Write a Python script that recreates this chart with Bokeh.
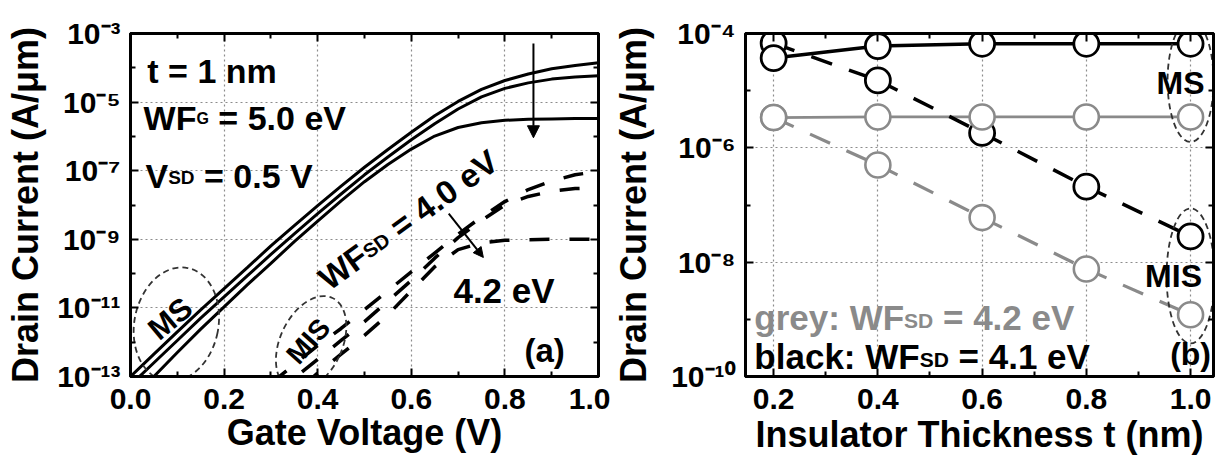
import math
from bokeh.plotting import figure
from bokeh.models import (FixedTicker, LogAxis, LinearAxis, CustomJSTickFormatter,
                          PrintfTickFormatter, Label, Arrow, NormalHead, Range1d)
from bokeh.layouts import row
from bokeh.embed import file_html
from bokeh.resources import INLINE

FONT = "Liberation Sans"

# ---------------- Panel (a) data: Id-Vg, t = 1 nm ----------------
gate_v = [0.00, 0.05, 0.10, 0.15, 0.20, 0.25, 0.30, 0.35, 0.40, 0.45, 0.50,
          0.55, 0.60, 0.65, 0.70, 0.75, 0.80, 0.85, 0.90, 0.95, 1.00]
log_id_ms_40 = [-13.00, -12.35, -11.70, -11.06, -10.44, -9.82, -9.19, -8.60, -8.02, -7.45, -6.90,
                -6.38, -5.88, -5.40, -4.98, -4.63, -4.37, -4.18, -4.03, -3.93, -3.85]
log_id_ms_41 = [-13.25, -12.60, -11.95, -11.30, -10.68, -10.06, -9.44, -8.84, -8.25, -7.68, -7.12,
                -6.60, -6.10, -5.63, -5.20, -4.85, -4.60, -4.44, -4.33, -4.27, -4.23]
log_id_ms_42 = [-13.65, -13.00, -12.30, -11.62, -10.97, -10.32, -9.70, -9.07, -8.47, -7.88, -7.32,
                -6.82, -6.37, -5.99, -5.74, -5.60, -5.53, -5.50, -5.49, -5.48, -5.48]

gate_v_mis = [0.30, 0.35, 0.40, 0.45, 0.50, 0.55, 0.60, 0.65, 0.70, 0.75, 0.80,
              0.85, 0.90, 0.95, 1.00]
log_id_mis_40 = [-13.20, -12.65, -12.10, -11.60, -11.05, -10.50, -9.95, -9.40, -8.85, -8.35, -7.90,
                 -7.55, -7.30, -7.12, -7.02]
log_id_mis_41 = [-13.60, -13.05, -12.50, -11.95, -11.40, -10.80, -10.20, -9.55, -8.95, -8.45, -8.00,
                 -7.75, -7.60, -7.52, -7.50]
log_id_mis_42 = [-14.00, -13.50, -12.90, -12.35, -11.80, -11.20, -10.50, -9.80, -9.30, -9.10, -9.03,
                 -9.01, -9.00, -9.00, -9.00]

xa_ticks = [0.0, 0.2, 0.4, 0.6, 0.8, 1.0]
xa_minor = [0.1, 0.3, 0.5, 0.7, 0.9]
ya_ticks = [1e-13, 1e-11, 1e-9, 1e-7, 1e-5, 1e-3]
ya_minor = [1e-12, 1e-10, 1e-8, 1e-6, 1e-4]

# ---------------- Panel (b) data: Id vs insulator thickness ----------------
thickness = [0.2, 0.4, 0.6, 0.8, 1.0]
log_black_ms = [-4.43, -4.22, -4.18, -4.18, -4.18]
log_black_mis = [-4.17, -4.82, -5.74, -6.68, -7.55]
log_grey_ms = [-5.47, -5.46, -5.46, -5.46, -5.46]
log_grey_mis = [-5.47, -6.30, -7.22, -8.12, -8.92]

xb_ticks = [0.2, 0.4, 0.6, 0.8, 1.0]
xb_minor = [0.3, 0.5, 0.7, 0.9]
yb_ticks = [1e-10, 1e-8, 1e-6, 1e-4]
yb_minor = [1e-9, 1e-7, 1e-5]

GREY = "#8a8a8a"
ELL = "#333333"


def pw(vals):
    return [10.0 ** v for v in vals]


SUP_JS = """
const m = {'-':'\\u207B','0':'\\u2070','1':'\\u00B9','2':'\\u00B2','3':'\\u00B3',
           '4':'\\u2074','5':'\\u2075','6':'\\u2076','7':'\\u2077','8':'\\u2078','9':'\\u2079'};
const e = Math.round(Math.log10(tick));
return '10' + String(e).split('').map(c => m[c]).join('');
"""

W = {' ': 0.278, '=': 0.584, '.': 0.278, ':': 0.333, '(': 0.333, ')': 0.333,
     'D': 0.722, 'F': 0.611, 'G': 0.778, 'S': 0.667, 'V': 0.667, 'W': 0.944,
     'M': 0.833, 'I': 0.278, 'a': 0.556, 'b': 0.611, 'c': 0.556, 'e': 0.556,
     'g': 0.611, 'k': 0.556, 'l': 0.278, 'm': 0.889, 'n': 0.611, 'r': 0.389,
     't': 0.333, 'y': 0.556}


def tw(s, size):
    return sum(W.get(c, 0.556) for c in s) * size


def rich(p, x, y, parts, angle_deg=0.0, color="black"):
    a = math.radians(angle_deg)
    d = 0.0
    for txt, size, drop in parts:
        lead = len(txt) - len(txt.lstrip(' '))
        d += tw(' ' * lead, size)
        t = txt.strip(' ')
        xo = d * math.cos(a) + drop * math.sin(a)
        yo = d * math.sin(a) - drop * math.cos(a)
        p.add_layout(Label(x=x, y=y, x_offset=xo, y_offset=yo, text=t, angle=a,
                           text_font=FONT, text_font_style="bold",
                           text_font_size=f"{size}px", text_color=color,
                           text_baseline="alphabetic", text_align="left"))
        d += tw(t, size)


def style_axis(ax, show_labels=True, tick_size="30px"):
    ax.axis_line_width = 3
    ax.axis_line_color = "black"
    ax.major_tick_in = 8
    ax.major_tick_out = 0
    ax.minor_tick_in = 5
    ax.minor_tick_out = 0
    ax.major_tick_line_width = 2
    ax.minor_tick_line_width = 2
    ax.major_tick_line_color = "black"
    ax.minor_tick_line_color = "black"
    ax.major_label_text_font = FONT
    ax.major_label_text_font_style = "bold"
    if show_labels:
        ax.major_label_text_font_size = tick_size
        ax.major_label_text_color = "black"
    else:
        ax.major_label_text_font_size = "2px"
        ax.major_label_text_color = None
        ax.major_label_standoff = 0
    ax.axis_label_text_font = FONT
    ax.axis_label_text_font_style = "bold"
    ax.axis_label_text_font_size = "36px"
    ax.axis_label_text_color = "black"


def style_fig(p):
    p.outline_line_color = "black"
    p.outline_line_width = 3
    p.outline_line_alpha = 1
    p.background_fill_color = "white"
    p.border_fill_color = "white"
    for g in (p.xgrid[0], p.ygrid[0]):
        g.grid_line_color = "#8c8c8c"
        g.grid_line_dash = "2 3"
        g.grid_line_width = 1.2


# ======================= Panel (a) =======================
p1 = figure(width=610, height=457, x_range=Range1d(0.0, 1.0), y_range=Range1d(1e-13, 1e-3),
            y_axis_type="log", output_backend="svg", toolbar_location=None,
            min_border_left=130, min_border_right=12, min_border_top=32, min_border_bottom=76)
style_fig(p1)
p1.xaxis.ticker = FixedTicker(ticks=xa_ticks, minor_ticks=xa_minor)
p1.yaxis.ticker = FixedTicker(ticks=ya_ticks, minor_ticks=ya_minor)
p1.xaxis.formatter = PrintfTickFormatter(format="%.1f")
p1.yaxis.formatter = CustomJSTickFormatter(code=SUP_JS)
p1.xaxis.axis_label = "Gate Voltage (V)"
p1.yaxis.axis_label = "Drain Current (A/\u03bcm)"
style_axis(p1.xaxis[0], tick_size="30px")
style_axis(p1.yaxis[0], tick_size="30px")
p1.xaxis.major_label_standoff = 12
p1.xaxis.axis_label_standoff = 0
p1.yaxis.major_label_standoff = 10
p1.yaxis.axis_label_standoff = 8
ax_top = LinearAxis(ticker=FixedTicker(ticks=xa_ticks, minor_ticks=xa_minor))
style_axis(ax_top, show_labels=False)
p1.add_layout(ax_top, "above")
ax_right = LogAxis(ticker=FixedTicker(ticks=ya_ticks, minor_ticks=ya_minor))
style_axis(ax_right, show_labels=False)
p1.add_layout(ax_right, "right")

for vals in (log_id_ms_40, log_id_ms_41, log_id_ms_42):
    p1.line(gate_v, pw(vals), line_color="black", line_width=3)
for vals in (log_id_mis_40, log_id_mis_41, log_id_mis_42):
    p1.line(gate_v_mis, pw(vals), line_color="black", line_width=3.5, line_dash="20 20")

# dashed ellipses around MS / MIS groups
p1.ellipse(x=[0.098, 0.386], y=[10 ** -11.48, 10 ** -12.03], width=[84, 62], height=[115, 100],
           angle=[-0.2, -0.44], width_units="screen", height_units="screen",
           fill_color=None, line_color=ELL, line_width=1.8, line_dash="6 4")

# arrows
p1.add_layout(Arrow(end=NormalHead(size=12, fill_color="black", line_color="black"),
                    x_start=0.861, y_start=10 ** -3.29, x_end=0.861, y_end=10 ** -6.04,
                    line_width=2, line_color="black"))
p1.add_layout(Arrow(end=NormalHead(size=10, fill_color="black", line_color="black"),
                    x_start=0.68, y_start=10 ** -8.25, x_end=0.754, y_end=10 ** -9.53,
                    line_width=2, line_color="black"))

# text annotations
rich(p1, 0.036, 10 ** -4.09, [("t = 1 nm", 34, 0)])
rich(p1, 0.028, 10 ** -5.46, [("WF", 34, 0), ("G", 16, 1), (" = 5.0 eV", 34, 0)])
rich(p1, 0.032, 10 ** -7.15, [("V", 34, 0), ("SD", 19, 2), (" = 0.5 V", 34, 0)])
rich(p1, 0.41, 10 ** -10.25, [("WF", 33, 0), ("SD", 20, 2), (" = 4.0 eV", 33, 0)], angle_deg=36)
rich(p1, 0.69, 10 ** -10.48, [("4.2 eV", 35, 0)])

for txt, x, y, ang, size in (("MS", 0.085, 10 ** -11.31, 40, 31),
                             ("MIS", 0.38, 10 ** -11.97, 48, 28),
                             ("(a)", 0.885, 10 ** -12.25, 0, 33)):
    p1.add_layout(Label(x=x, y=y, text=txt, angle=math.radians(ang), text_font=FONT,
                        text_font_style="bold", text_font_size=f"{size}px",
                        text_align="center", text_baseline="middle", text_color="black"))

# ======================= Panel (b) =======================
p2 = figure(width=609, height=457, x_range=Range1d(0.146, 1.044), y_range=Range1d(1e-10, 1e-4),
            y_axis_type="log", output_backend="svg", toolbar_location=None,
            min_border_left=135, min_border_right=6, min_border_top=33, min_border_bottom=79)
style_fig(p2)
p2.xaxis.ticker = FixedTicker(ticks=xb_ticks, minor_ticks=xb_minor)
p2.yaxis.ticker = FixedTicker(ticks=yb_ticks, minor_ticks=yb_minor)
p2.xaxis.formatter = PrintfTickFormatter(format="%.1f")
p2.yaxis.formatter = CustomJSTickFormatter(code=SUP_JS)
p2.xaxis.axis_label = "Insulator Thickness t (nm)"
p2.yaxis.axis_label = "Drain Current (A/\u03bcm)"
style_axis(p2.xaxis[0], tick_size="30px")
style_axis(p2.yaxis[0], tick_size="30px")
p2.xaxis.major_label_standoff = 12
p2.xaxis.axis_label_standoff = 2
p2.yaxis.major_label_standoff = 10
p2.yaxis.axis_label_standoff = 14
bx_top = LinearAxis(ticker=FixedTicker(ticks=xb_ticks, minor_ticks=xb_minor))
style_axis(bx_top, show_labels=False)
p2.add_layout(bx_top, "above")
bx_right = LogAxis(ticker=FixedTicker(ticks=yb_ticks, minor_ticks=yb_minor))
style_axis(bx_right, show_labels=False)
p2.add_layout(bx_right, "right")


def segments(xv, yv):
    return ([[xv[i], xv[i + 1]] for i in range(len(xv) - 1)],
            [[yv[i], yv[i + 1]] for i in range(len(yv) - 1)])


p2.line(thickness, pw(log_grey_ms), line_color=GREY, line_width=2.8)
xs, ys = segments(thickness, pw(log_grey_mis))
p2.multi_line(xs, ys, line_color=GREY, line_width=3.2, line_dash="22 18")
p2.line(thickness, pw(log_black_ms), line_color="black", line_width=3.5)
xs, ys = segments(thickness, pw(log_black_mis))
p2.multi_line(xs, ys, line_color="black", line_width=3.5, line_dash="22 18")

p2.scatter(thickness, pw(log_black_mis), marker="circle", size=25, fill_color="white",
           line_color="black", line_width=2.8)
p2.scatter(thickness, pw(log_black_ms), marker="circle", size=25, fill_color="white",
           line_color="black", line_width=2.8)
p2.scatter(thickness, pw(log_grey_mis), marker="circle", size=25, fill_color="white",
           line_color=GREY, line_width=2.6)
p2.scatter(thickness, pw(log_grey_ms), marker="circle", size=25, fill_color="white",
           line_color=GREY, line_width=2.6)

p2.ellipse(x=[1.0, 1.0], y=[10 ** -4.83, 10 ** -8.24], width=[46, 48], height=[122, 135],
           width_units="screen", height_units="screen", fill_color=None,
           line_color=ELL, line_width=1.8, line_dash="6 4")

rich(p2, 0.163, 10 ** -8.97, [("grey: WF", 35, 0), ("SD", 21, 3), (" = 4.2 eV", 35, 0)], color=GREY)
rich(p2, 0.163, 10 ** -9.65, [("black: WF", 35, 0), ("SD", 21, 3), (" = 4.1 eV", 35, 0)])

for txt, x, y, xo, size in (("MS", 1.0, 10 ** -4.86, -10, 32),
                            ("MIS", 1.0, 10 ** -8.25, -17, 32),
                            ("(b)", 1.0, 10 ** -9.60, 0, 32)):
    p2.add_layout(Label(x=x, y=y, x_offset=xo, text=txt, text_font=FONT,
                        text_font_style="bold", text_font_size=f"{size}px",
                        text_align="center", text_baseline="middle", text_color="black"))

layout = row(p1, p2)
open("out.html", "w").write(file_html(layout, INLINE))
